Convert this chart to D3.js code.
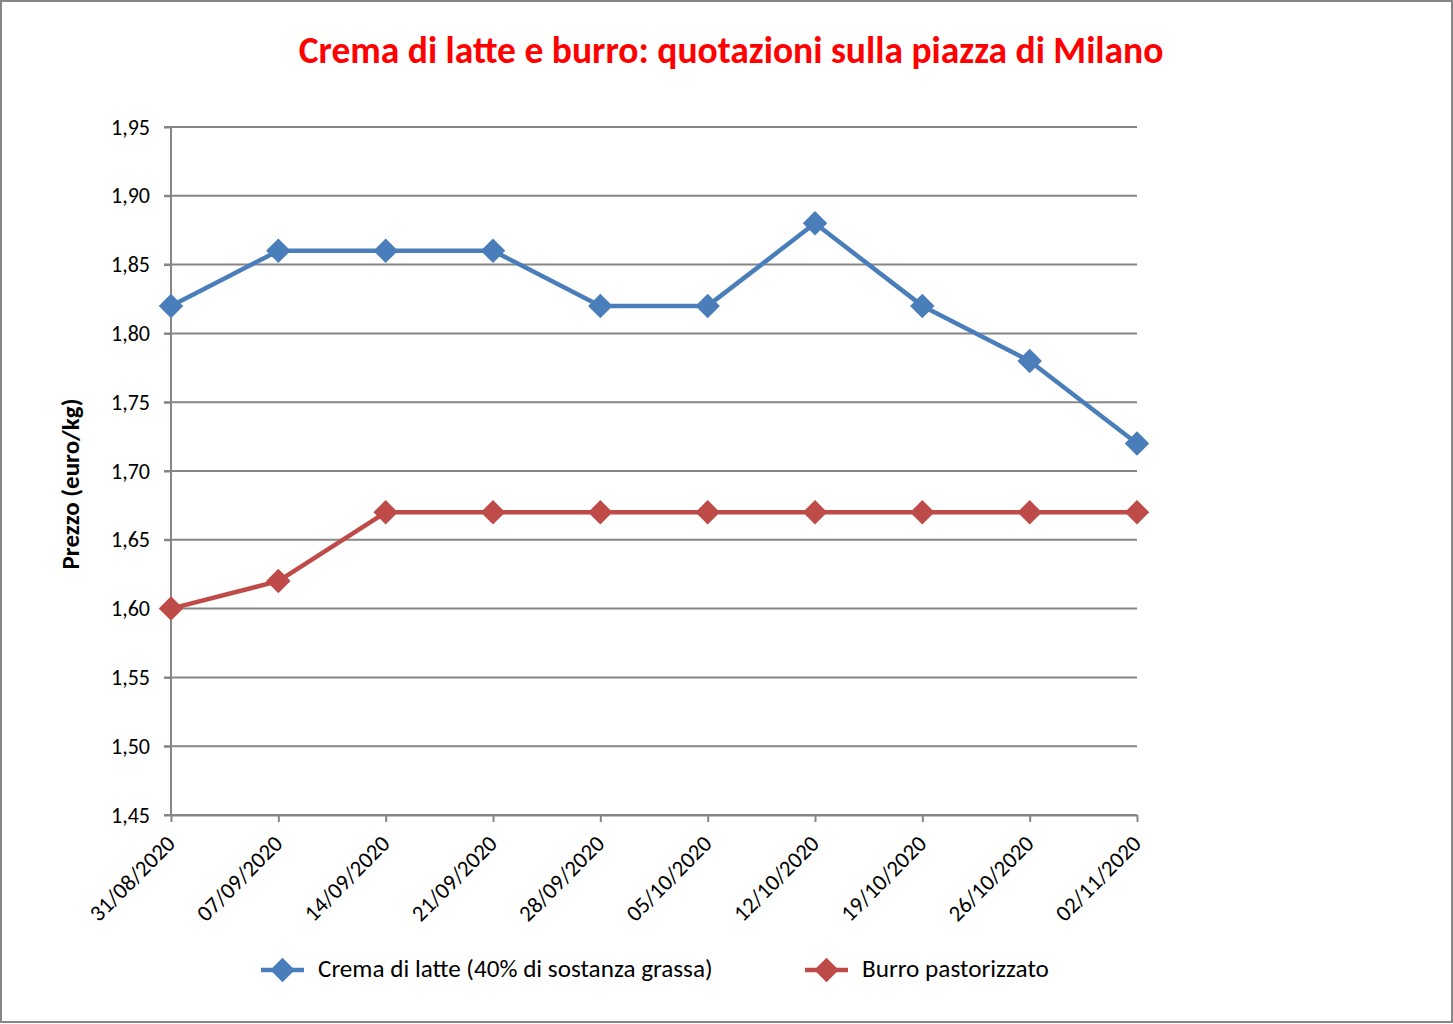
<!DOCTYPE html>
<html><head><meta charset="utf-8">
<script src="https://cdn.jsdelivr.net/npm/d3@7"></script>
<style>body{margin:0;background:#fff}svg{display:block}text{font-family:Carlito,Lato,"Open Sans",sans-serif}</style>
</head><body>
<svg id="c" width="1453" height="1024"></svg>
<script>
const categories = ["31/08/2020","07/09/2020","14/09/2020","21/09/2020","28/09/2020","05/10/2020","12/10/2020","19/10/2020","26/10/2020","02/11/2020"];
const crema = [1.82,1.86,1.86,1.86,1.82,1.82,1.88,1.82,1.78,1.72];
const burro = [1.60,1.62,1.67,1.67,1.67,1.67,1.67,1.67,1.67,1.67];
const yTicks = [1.45,1.50,1.55,1.60,1.65,1.70,1.75,1.80,1.85,1.90,1.95];
const seriesNames = ["Crema di latte (40% di sostanza grassa)","Burro pastorizzato"];
const colors = ["#4a7ebb","#be4b48"];
const title = "Crema di latte e burro: quotazioni sulla piazza di Milano";
const yLabel = "Prezzo (euro/kg)";

const svg = d3.select("#c");
const grey = "#868686";
svg.append("rect").attr("x",1).attr("y",1).attr("width",1451).attr("height",1021)
  .attr("fill","#fff").attr("stroke",grey).attr("stroke-width",2);

// size a text element so its width matches the reference width
function fitSize(node, base, target){
  node.setAttribute("font-size", base);
  const w = node.getComputedTextLength();
  return base*target/w;
}

const L=171,R=1137,T=127,B=815;
const x = d3.scalePoint().domain(categories).range([L,R]).padding(0);
const y = d3.scaleLinear().domain([1.45,1.95]).range([B,T]);
const fmt = d => d.toFixed(2).replace(".",",");

// gridlines
svg.append("g").selectAll("line").data(yTicks).join("line")
  .attr("x1",L-7).attr("x2",R).attr("y1",d=>y(d)).attr("y2",d=>y(d))
  .attr("stroke",grey).attr("stroke-width",2);

// y axis
const ya = svg.append("g").attr("transform",`translate(${L},0)`)
  .call(d3.axisLeft(y).tickValues(yTicks).tickFormat(fmt).tickSize(7).tickPadding(14));
ya.select(".domain").attr("stroke",grey).attr("stroke-width",2).attr("d",`M0,${T}V${B}`);
ya.selectAll(".tick line").attr("stroke",grey).attr("stroke-width",2);
const yts = fitSize(ya.select(".tick text").node(), 20, 39);
ya.selectAll("text").attr("font-size",yts).attr("fill","#000").attr("font-family",null);

// x axis
const xa = svg.append("g").attr("transform",`translate(0,${B})`)
  .call(d3.axisBottom(x).tickSize(7).tickSizeOuter(0));
xa.select(".domain").attr("stroke",grey).attr("stroke-width",2);
xa.selectAll(".tick line").attr("stroke",grey).attr("stroke-width",2);
const xts = fitSize(xa.select(".tick text").node(), 20, 110);
xa.selectAll("text").attr("font-size",xts).attr("fill","#000").attr("font-family",null)
  .attr("text-anchor","end").attr("dy",null).attr("y",0)
  .attr("transform","translate(5,30) rotate(-45)");

// series
const diamond = d3.symbol().type(d3.symbolSquare).size(300);
[crema,burro].forEach((vals,i)=>{
  const line = d3.line().x((d,j)=>x(categories[j])).y(d=>y(d));
  svg.append("path").datum(vals).attr("d",line).attr("fill","none")
    .attr("stroke",colors[i]).attr("stroke-width",4.5).attr("stroke-linejoin","round");
  svg.append("g").selectAll("path").data(vals).join("path")
    .attr("d",diamond).attr("fill",colors[i])
    .attr("transform",(d,j)=>`translate(${x(categories[j])},${y(d)}) rotate(45)`);
});

// title
const t = svg.append("text").attr("x",731).attr("y",63).attr("text-anchor","middle")
  .attr("font-weight","bold").attr("fill","#ff0000").text(title);
t.attr("font-size", fitSize(t.node(), 30, 865));

// y label
const yl = svg.append("text").attr("transform","translate(79,484) rotate(-90)").attr("text-anchor","middle")
  .attr("font-weight","bold").attr("fill","#000").text(yLabel);
yl.attr("font-size", fitSize(yl.node(), 19, 171));

// legend
const legX = [261,805];
const legW = [395,187];
seriesNames.forEach((n,i)=>{
  const g = svg.append("g").attr("transform",`translate(${legX[i]},970)`);
  g.append("line").attr("x1",0).attr("x2",43).attr("stroke",colors[i]).attr("stroke-width",4.5);
  g.append("path").attr("d",diamond).attr("fill",colors[i]).attr("transform","translate(21.5,0) rotate(45)");
  const tx = g.append("text").attr("x",57).attr("y",7).attr("fill","#000").text(n);
  tx.attr("font-size", fitSize(tx.node(), 20, legW[i]));
});
</script>
</body></html>
